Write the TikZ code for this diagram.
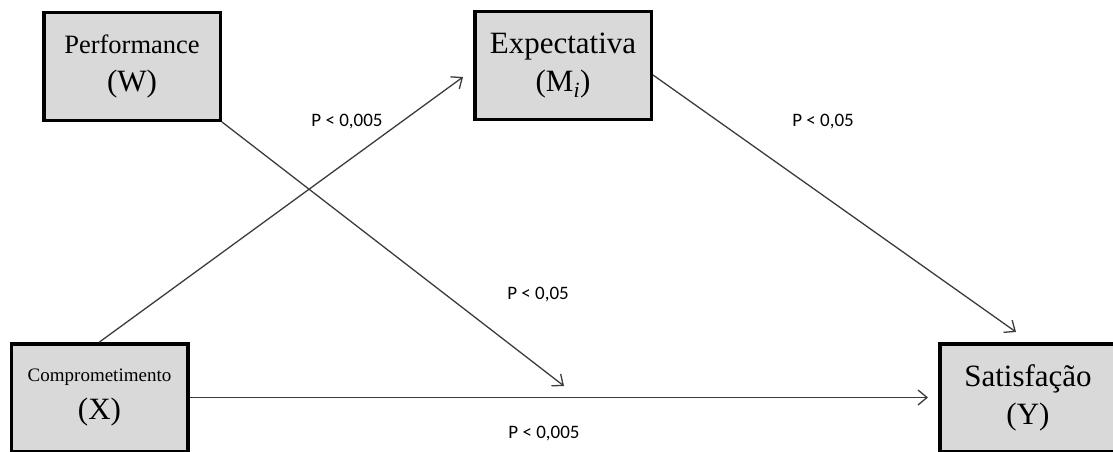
\documentclass[tikz,border=0pt]{standalone}
\usepackage{fontspec}
\setmainfont{Liberation Serif}
\newfontfamily\plabfont{Carlito}
\usetikzlibrary{calc,arrows.meta}
\definecolor{boxgray}{RGB}{217,217,217}
\definecolor{linegray}{RGB}{60,60,60}

\begin{document}
\begin{tikzpicture}[x=1pt,y=-1pt,
  box/.style={draw=black, fill=boxgray, line width=3.5pt, minimum width=176.5pt,
    minimum height=107.5pt, inner sep=0pt, align=center, font=\fontsize{31}{38}\selectfont},
  arr/.style={draw=linegray, line width=1.3pt, -{Straight Barb[length=9pt,width=15pt]}},
  plab/.style={font=\plabfont\fontsize{19}{22}\selectfont, inner sep=0pt}]

\useasboundingbox (0,0) rectangle (1113,452);
\clip (0,0) rectangle (1113,452);

% the four variables
\node[box] (W) at (132,66.5) {{\fontsize{26.5}{38}\selectfont Performance}\\(W)};
\node[box] (M) at (563,65.5) {Expectativa\\(M\textsubscript{\itshape i})};
\node[box] (X) at (99.5,397.5) {{\fontsize{19}{38}\selectfont Comprometimento}\\(X)};
\node[box] (Y) at (1028,397.5) {Satisfação\\(Y)};

% paths
\coordinate (wend) at (564,386);
\draw[arr] (X.north) -- ($(M.west)+(-10,11.5)$);
\draw[arr] ($(M.east)+(0,9.5)$) -- ($(Y.north)+(-12,-10)$);
\draw[arr] (W.south east) -- (wend);
\draw[arr, shorten >=10pt] (X.east) -- (Y.west);

% p-values
\node[plab] (p1) at (347,122) {P < 0,005};
\node[plab] (p2) at (823,122) {P < 0,05};
\node[plab] (p3) at (538,295) {P < 0,05};
\node[plab] (p4) at (544,434) {P < 0,005};

\end{tikzpicture}
\end{document}
